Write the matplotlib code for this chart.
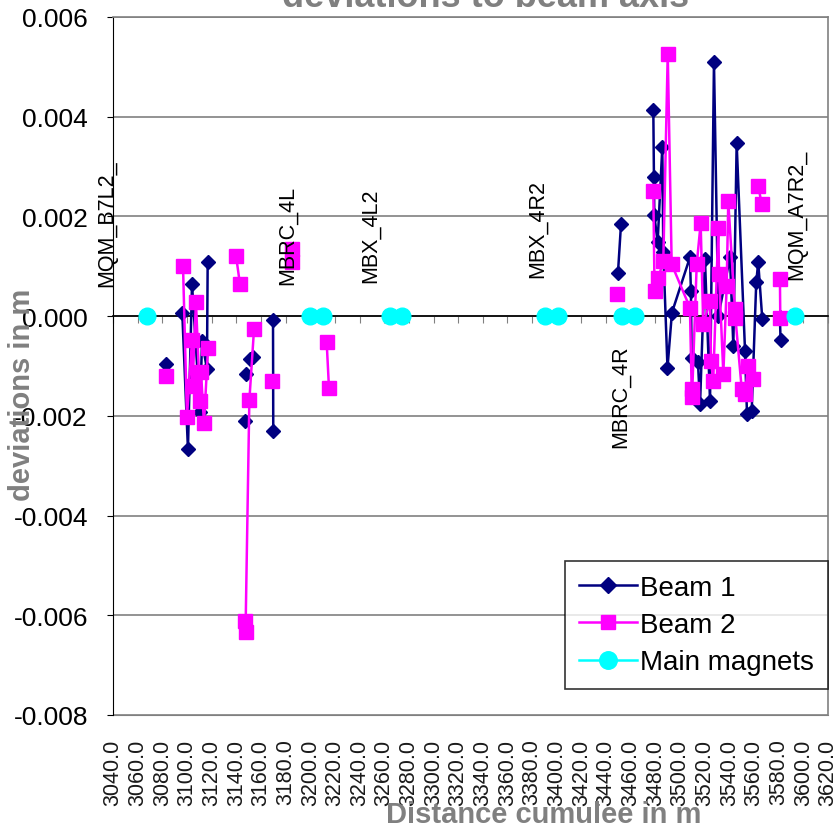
import numpy as np
import matplotlib
matplotlib.use('Agg')
import matplotlib.pyplot as plt

plt.rcParams['font.family'] = ['Liberation Sans', 'DejaVu Sans']

nan = np.nan

# Beam 1 (nan = break in the line)
beam1_x = [3083.0, nan,
           3096.2, 3100.8, 3104.1, 3110.6, 3112.2, 3116.2, 3116.8, nan,
           3147.1, nan, 3147.9, nan, 3151.1, 3153.6, nan,
           3169.8, 3170.0, nan,
           3449.6, 3452.1, nan,
           3478.3, 3478.8, 3479.1, 3481.8, 3485.6, 3486.4, 3489.8, 3493.4,
           3508.0, 3508.8, 3509.4, 3514.5, 3516.2, 3520.2, 3524.3, 3527.5,
           3531.0, 3540.5, 3543.2, 3545.9, 3552.7, 3554.3, 3558.1, 3561.8,
           3563.4, 3566.7, nan,
           3581.0, 3581.5]
beam1_y = [-0.00096, nan,
           0.00006, -0.00267, 0.00064, -0.00193, -0.00050, -0.00106, 0.00108, nan,
           -0.00210, nan, -0.00116, nan, -0.00086, -0.00082, nan,
           -0.00008, -0.00230, nan,
           0.00086, 0.00185, nan,
           0.00413, 0.00280, 0.00203, 0.00148, 0.00340, 0.00128, -0.00104, 0.00007,
           0.00118, 0.00050, -0.00083, -0.00092, -0.00177, 0.00114, -0.00170, 0.00510,
           0.00000, 0.00118, -0.00060, 0.00347, -0.00070, -0.00197, -0.00190, 0.00068,
           0.00108, -0.00006, nan,
           -0.00002, -0.00048]

# Beam 2
beam2_x = [3083.0, nan,
           3096.8, 3100.0, 3104.1, 3104.5, 3107.3, 3110.6, 3111.4, 3113.8, 3117.1, nan,
           3139.8, 3143.0, nan,
           3147.1, 3147.5, 3150.6, 3154.4, nan,
           3168.7, nan,
           3185.2, 3185.4, nan,
           3213.3, 3215.2, nan,
           3449.1, nan,
           3478.3, 3479.3, 3482.3, 3486.4, 3490.0, 3493.2, 3508.0, 3509.4,
           3509.7, 3513.5, 3516.7, 3518.8, 3524.3, 3525.1, 3526.9, 3531.0,
           3531.6, 3535.1, 3537.8, 3539.1, 3544.5, 3544.9, 3550.0, 3552.7,
           3555.3, 3559.4, nan,
           3563.4, 3566.2, nan,
           3581.0, 3581.3]
beam2_y = [-0.00120, nan,
           0.00100, -0.00202, -0.00048, -0.00140, 0.00028, -0.00170, -0.00112, -0.00215, -0.00064, nan,
           0.00121, 0.00064, nan,
           -0.00612, -0.00634, -0.00169, -0.00026, nan,
           -0.00130, nan,
           0.00134, 0.00108, nan,
           -0.00051, -0.00144, nan,
           0.00045, nan,
           0.00251, 0.00050, 0.00076, 0.00111, 0.00526, 0.00104, 0.00017, -0.00146,
           -0.00163, 0.00104, 0.00186, -0.00016, 0.00030, -0.00090, -0.00130, 0.00176,
           0.00084, -0.00116, 0.00060, 0.00230, 0.00014, -0.00003, -0.00146, -0.00156,
           -0.00100, -0.00126, nan,
           0.00261, 0.00225, nan,
           0.00074, -0.00003]

# Main magnets
magnets_x = [3067.6, nan, 3199.8, 3210.3, nan, 3264.7, 3274.4, nan,
             3390.4, 3401.0, nan, 3452.9, 3463.4, nan, 3593.2]
magnets_y = [0.0, nan, 0.0, 0.0, nan, 0.0, 0.0, nan,
             0.0, 0.0, nan, 0.0, 0.0, nan, 0.0]

# element names written on the chart
element_names = ['MQM_B7L2_', 'MBRC_4L', 'MBX_4L2', 'MBX_4R2', 'MBRC_4R', 'MQM_A7R2_']
element_x = [3035.1, 3181.1, 3248.5, 3383.9, 3451.3, 3594.8]
element_y = [0.0006, 0.00064, 0.00068, 0.00078, -0.00056, 0.00074]

x_ticks = np.arange(3040, 3621, 20)
y_ticks = np.arange(-0.008, 0.0061, 0.002)

fig = plt.figure(figsize=(8.4, 8.29), dpi=100)
ax = fig.add_axes([113 / 840, 113 / 829, 715 / 840, 698 / 829])

ax.plot(beam1_x, beam1_y, color='#000080', lw=1.8, marker='D', ms=7.5,
        label='Beam 1', zorder=3)
ax.plot(beam2_x, beam2_y, color='#FF00FF', lw=1.8, marker='s', ms=10,
        label='Beam 2', zorder=4)
ax.plot(magnets_x, magnets_y, color='#00FFFF', lw=1.8, marker='o', ms=12,
        label='Main magnets', zorder=5)

for name, xx, yy in zip(element_names, element_x, element_y):
    va = 'top' if yy < 0 else 'bottom'
    ax.text(xx, yy, name, rotation=90, ha='center', va=va, fontsize=15.5,
            clip_on=False, zorder=6)

ax.set_xlim(3040, 3620)
ax.set_ylim(-0.008, 0.006)
ax.set_yticks(y_ticks)
ax.set_yticklabels(['%.3f' % v for v in y_ticks])
ax.set_xticks(x_ticks)
ax.grid(axis='y', color='#808080', lw=1.2)
ax.set_axisbelow(True)

# zero line with the tick marks, labels at the bottom
ax.spines['bottom'].set_position(('data', 0))
ax.spines['bottom'].set_color('black')
ax.spines['bottom'].set_linewidth(1.2)
ax.tick_params(axis='x', direction='out', length=5, color='#808080',
               labelbottom=False)
ax.tick_params(axis='y', direction='out', length=4, labelsize=19, pad=14)
ax.spines['left'].set_color('black')
for s in ['top', 'right']:
    ax.spines[s].set_color('#808080')
    ax.spines[s].set_linewidth(1.2)

sec = ax.secondary_xaxis('bottom')
sec.set_xticks(x_ticks)
sec.set_xticklabels(['%.1f' % v for v in x_ticks], rotation=90, fontsize=15.5,
                    color='#1a1a1a')
sec.tick_params(length=0, pad=17)
sec.spines['bottom'].set_color('#808080')

leg = ax.legend(loc='lower right', bbox_to_anchor=(1.0, 0.037), fontsize=20,
                frameon=True, fancybox=False, edgecolor='black',
                handlelength=2.1, labelspacing=0.4, borderpad=0.5,
                handletextpad=0.1, borderaxespad=0.0, markerscale=1.05)
leg.get_frame().set_linewidth(1.2)

fig.text(486 / 840, 1 - 7 / 829, 'deviations to beam axis', ha='center',
         va='baseline', fontsize=26, fontweight='bold', color='#808080')
fig.text(22 / 840, 1 - 395 / 829, 'deviations in m', rotation=90, ha='center',
         va='center', fontsize=21, fontweight='bold', color='#808080')
fig.text(544 / 840, 1 - 823 / 829, 'Distance cumulee in m', ha='center',
         va='baseline', fontsize=21, fontweight='bold', color='#808080')

fig.savefig('out.png', dpi=100)
